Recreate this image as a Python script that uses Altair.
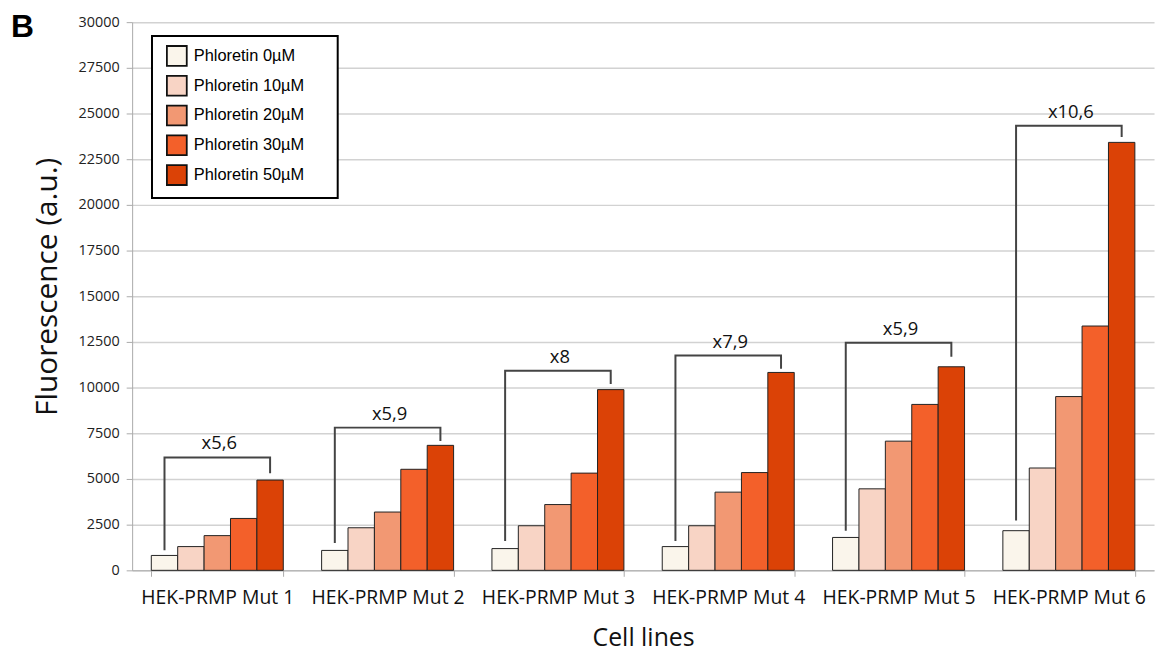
import altair as alt
import pandas as pd

cell_lines = ["HEK-PRMP Mut 1", "HEK-PRMP Mut 2", "HEK-PRMP Mut 3",
              "HEK-PRMP Mut 4", "HEK-PRMP Mut 5", "HEK-PRMP Mut 6"]
concentrations = ["Phloretin 0µM", "Phloretin 10µM", "Phloretin 20µM",
                  "Phloretin 30µM", "Phloretin 50µM"]
colors = ["#FAF5EB", "#F8D4C5", "#F29873", "#F3602A", "#DB4206"]

p0 = [815, 1090, 1190, 1300, 1800, 2170]
p10 = [1300, 2330, 2440, 2440, 4460, 5600]
p20 = [1900, 3190, 3600, 4280, 7070, 9510]
p30 = [2840, 5530, 5320, 5350, 9080, 13370]
p50 = [4940, 6840, 9890, 10830, 11140, 23420]

bracket_bottom = [1100, 1500, 1610, 1610, 2170, 2730]
bracket_top = [6180, 7810, 10920, 11760, 12450, 24330]
bracket_end = [5310, 7080, 10200, 11030, 11690, 23710]
fold_labels = ["x5,6", "x5,9", "x8", "x7,9", "x5,9", "x10,6"]

series = [p0, p10, p20, p30, p50]
bars_df = pd.DataFrame([
    {"cell": c, "conc": concentrations[j], "value": series[j][i]}
    for i, c in enumerate(cell_lines) for j in range(len(concentrations))
])

br_rows = []
for i, c in enumerate(cell_lines):
    br_rows += [
        {"cell": c, "conc": concentrations[0], "value": bracket_bottom[i], "step": 0},
        {"cell": c, "conc": concentrations[0], "value": bracket_top[i], "step": 1},
        {"cell": c, "conc": concentrations[-1], "value": bracket_top[i], "step": 2},
        {"cell": c, "conc": concentrations[-1], "value": bracket_end[i], "step": 3},
    ]
br_df = pd.DataFrame(br_rows)
lab_df = pd.DataFrame({"cell": cell_lines, "value": bracket_top, "label": fold_labels})

x_scale = alt.Scale(domain=cell_lines, paddingInner=0.225, paddingOuter=0.1125)
xo_scale = alt.Scale(domain=concentrations, paddingInner=0, paddingOuter=0)
y_scale = alt.Scale(domain=[0, 30000], nice=False)

bars = alt.Chart(bars_df).mark_bar(stroke="#222222", strokeWidth=1).encode(
    x=alt.X("cell:N", sort=cell_lines, scale=x_scale,
            axis=alt.Axis(title="Cell lines", tickBand="extent", labelAngle=0,
                          labelFont="Open Sans", labelFontSize=19.5, labelColor="#111111",
                          labelPadding=12, tickSize=6, tickColor="#aaaaaa",
                          domainColor="#aaaaaa", titleFont="Open Sans", titleFontSize=25,
                          titleFontWeight="normal", titleColor="#111111", titlePadding=19,
                          grid=False)),
    xOffset=alt.XOffset("conc:N", sort=concentrations, scale=xo_scale),
    y=alt.Y("value:Q", scale=y_scale,
            axis=alt.Axis(title="Fluorescence (a.u.)", values=list(range(0, 30001, 2500)),
                          format="d", labelFont="Open Sans", labelFontSize=14.5,
                          labelColor="#222222", labelPadding=7, tickSize=6,
                          tickColor="#aaaaaa", domainColor="#aaaaaa",
                          gridColor="#d2d2d2", gridWidth=1.5,
                          titleFont="Open Sans", titleFontSize=30, titleFontWeight="normal",
                          titleColor="#111111", titlePadding=16, titleY=266)),
    color=alt.Color("conc:N", sort=concentrations,
                    scale=alt.Scale(domain=concentrations, range=colors),
                    legend=alt.Legend(title=None, orient="none", legendX=20, legendY=14,
                                      symbolType="square", symbolSize=400,
                                      symbolStrokeColor="#111111", symbolStrokeWidth=1.8,
                                      symbolOpacity=1, symbolOffset=5,
                                      labelFont="Liberation Sans", labelFontSize=16.5,
                                      labelColor="#000000", labelOffset=6,
                                      labelExpr="datum.label + '\u2800\u2800'",
                                      rowPadding=2, padding=9,
                                      strokeColor="#000000", fillColor="#ffffff")),
)

brackets = alt.Chart(br_df).mark_line(color="#444444", strokeWidth=2).encode(
    x=alt.X("cell:N", sort=cell_lines, scale=x_scale),
    xOffset=alt.XOffset("conc:N", sort=concentrations, scale=xo_scale),
    y=alt.Y("value:Q", scale=y_scale),
    detail="cell:N",
    order=alt.Order("step:Q"),
)

labels = alt.Chart(lab_df).mark_text(font="Open Sans", fontSize=18.5, color="#111111",
                                     baseline="middle", dy=-14, dx=2).encode(
    x=alt.X("cell:N", sort=cell_lines, scale=x_scale),
    y=alt.Y("value:Q", scale=y_scale),
    text="label:N",
)

panel = alt.Chart(pd.DataFrame({"t": ["B"]})).mark_text(
    font="Liberation Sans", fontSize=32, fontWeight="bold", color="#000000",
    align="left", baseline="alphabetic").encode(
    x=alt.value(-122), y=alt.value(15), text="t:N")

chart = alt.layer(bars, brackets, labels, panel).properties(
    width=1029, height=552,
    autosize=alt.AutoSizeParams(type="none"),
    padding={"left": 125, "top": 12, "right": 4, "bottom": 82},
).configure_view(strokeWidth=0).configure_legend(strokeWidth=2)

chart.save("out.html", embed_options={"renderer": "svg", "actions": False})
